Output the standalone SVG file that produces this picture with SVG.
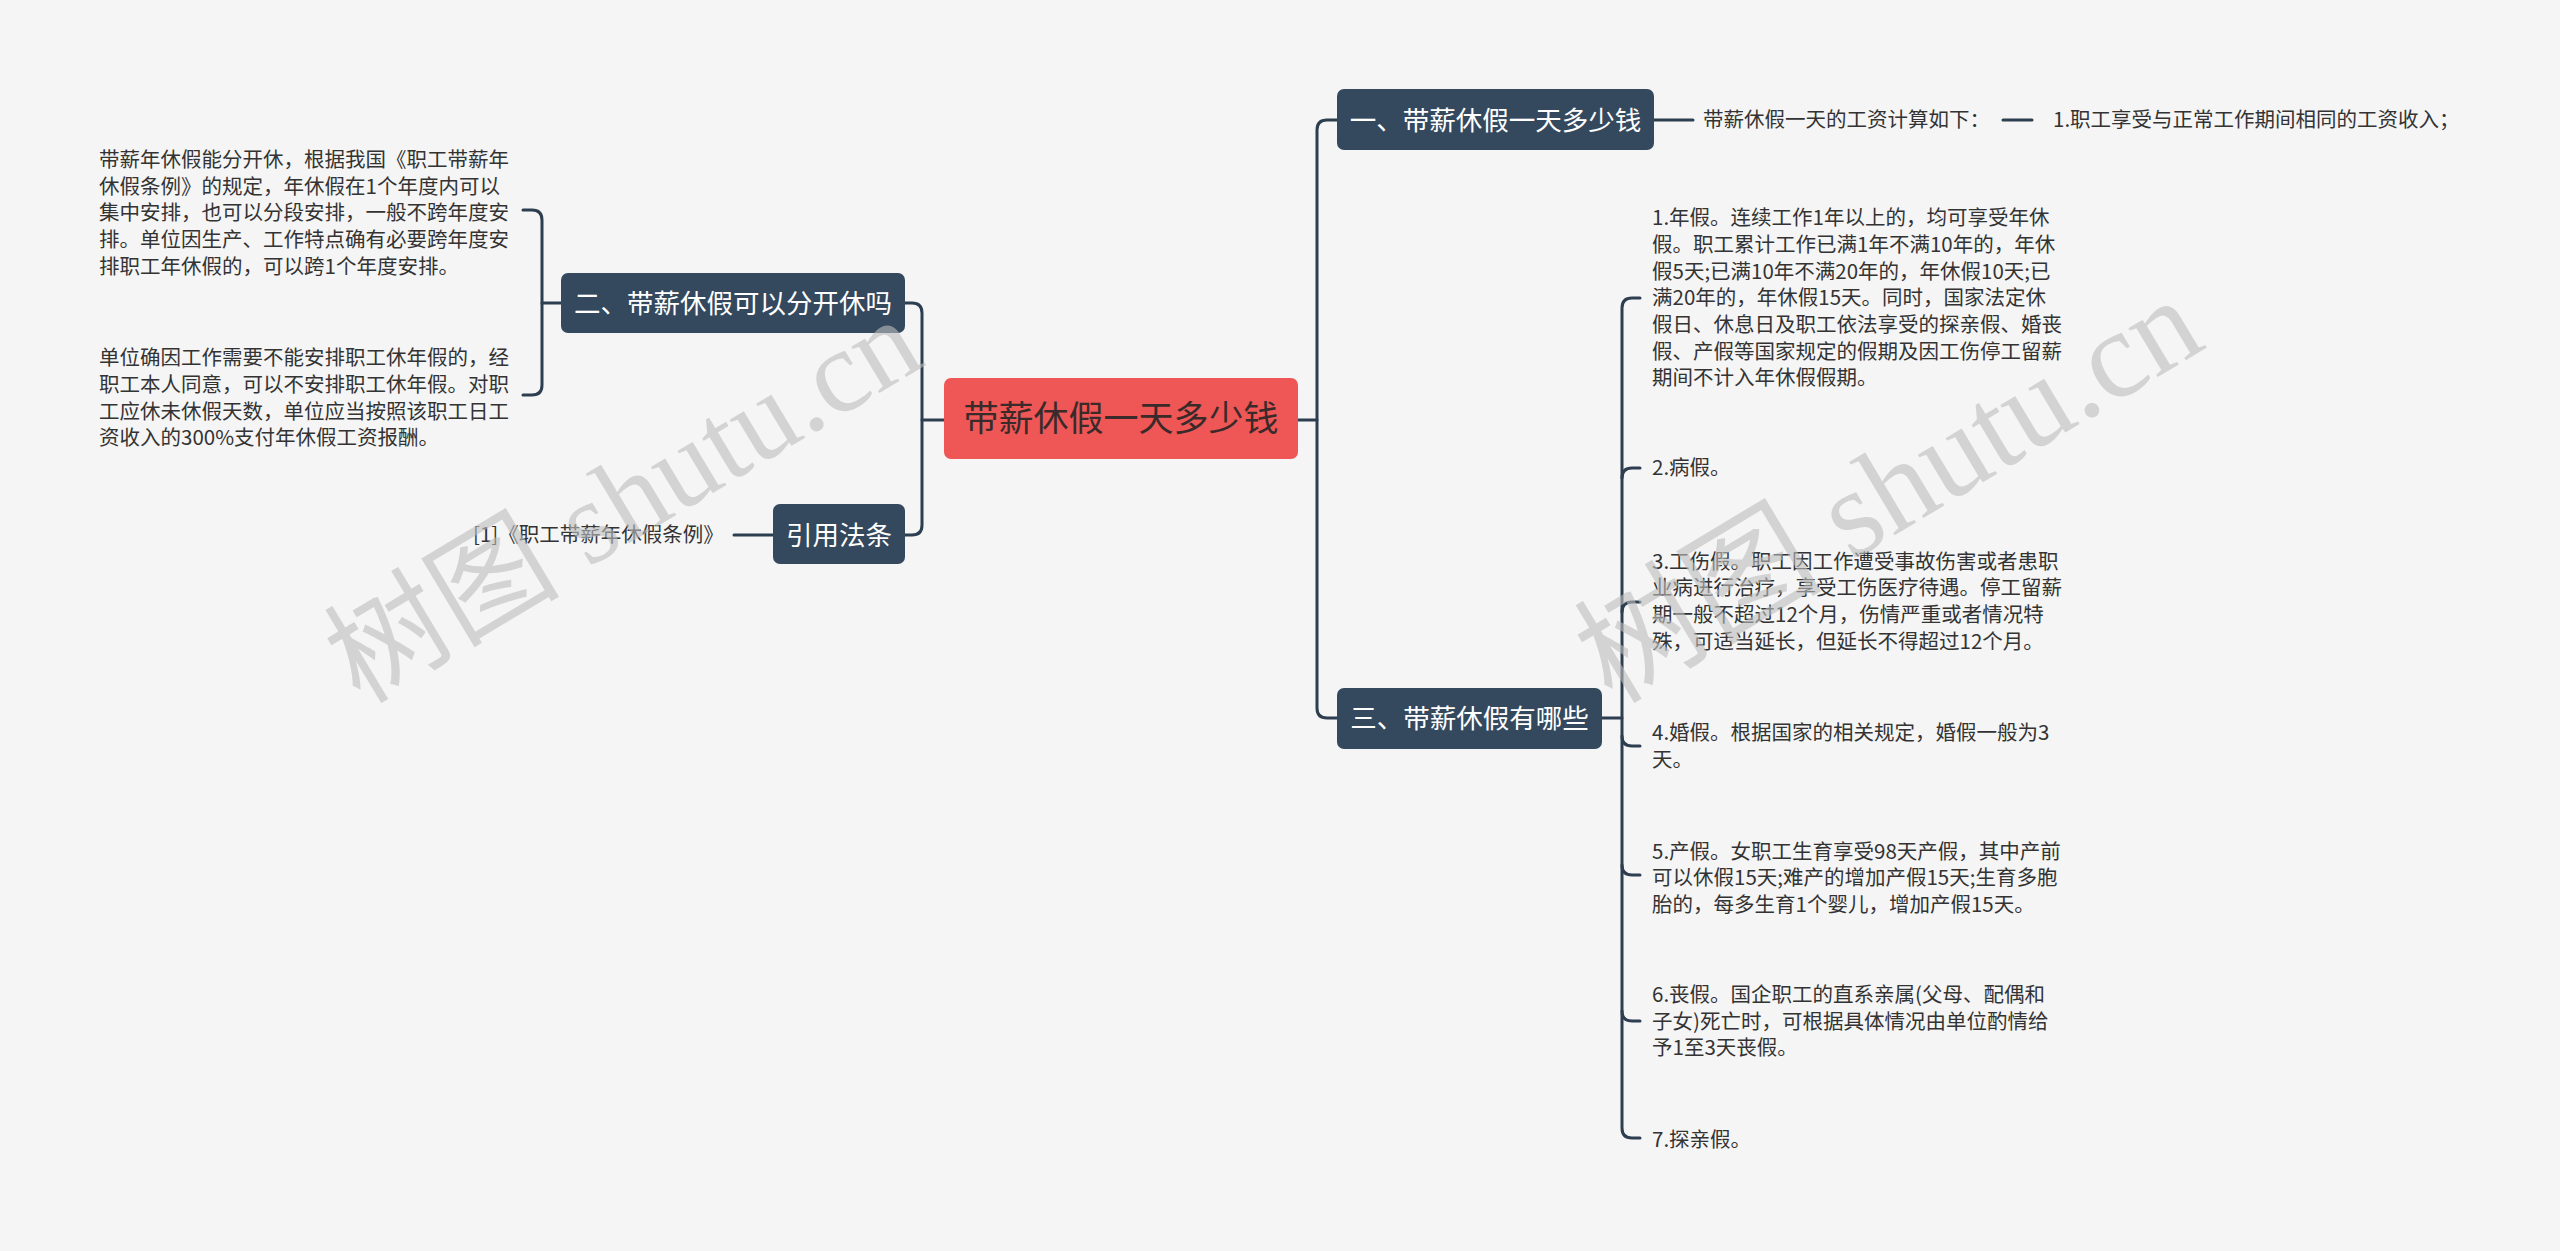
<svg xmlns="http://www.w3.org/2000/svg" width="2560" height="1251" viewBox="0 0 2560 1251">
<style>
.bg{fill:#f5f5f5}
.conn path{fill:none;stroke:#2c3e50;stroke-width:3;stroke-linecap:round}
.topic rect{fill:#34495e}
.topic text{fill:#ffffff;font-family:"Noto Sans CJK SC","Microsoft YaHei",sans-serif;font-size:26.5px}
.root rect{fill:#ef5656}
.root text{fill:#3a2a2a;font-family:"Noto Sans CJK SC",sans-serif;font-size:35px}
.leaf text{fill:#333333;font-family:"Noto Sans CJK SC",sans-serif;font-size:20.5px}
.wm{fill:#bdbdbd;opacity:0.6;font-family:"Liberation Serif","Noto Sans CJK SC",serif;font-size:118px}
</style>
<rect class="bg" x="0" y="0" width="2560" height="1251"/>

<g id="connectors" class="conn">
  <path d="M905 303 H912 Q922 303 922 313 V525 Q922 535 912 535 H905"/>
  <path d="M922 420 H944"/>
  <path d="M523 210 H532 Q542 210 542 220 V385 Q542 395 532 395 H523"/>
  <path d="M542 303 H561"/>
  <path d="M734 535 H773"/>
  <path d="M1337 120 H1327 Q1317 120 1317 130 V708 Q1317 718 1327 718 H1337"/>
  <path d="M1298 420 H1317"/>
  <path d="M1654 120 H1693"/>
  <path d="M2003 120 H2032"/>
  <path d="M1602 718 H1622"/>
  <path d="M1640 298 H1632 Q1622 298 1622 308 V1128 Q1622 1138 1632 1138 H1640"/>
  <path d="M1622 478 Q1622 468 1632 468 H1640"/>
  <path d="M1622 612 Q1622 602 1632 602 H1640"/>
  <path d="M1622 736 Q1622 746 1632 746 H1640"/>
  <path d="M1622 865 Q1622 875 1632 875 H1640"/>
  <path d="M1622 1011 Q1622 1021 1632 1021 H1640"/>
</g>

<g id="root" class="root">
  <rect x="944" y="378" width="354" height="81" rx="7"/>
  <text x="1121" y="431" text-anchor="middle">带薪休假一天多少钱</text>
</g>

<g id="topic-2" class="topic">
  <rect x="561" y="273" width="344" height="60" rx="7"/>
  <text x="733" y="313" text-anchor="middle">二、带薪休假可以分开休吗</text>
</g>
<g id="topic-cite" class="topic">
  <rect x="773" y="504" width="132" height="60" rx="7"/>
  <text x="839" y="545" text-anchor="middle">引用法条</text>
</g>
<g id="topic-1" class="topic">
  <rect x="1337" y="89" width="317" height="61" rx="7"/>
  <text x="1495.5" y="130" text-anchor="middle">一、带薪休假一天多少钱</text>
</g>
<g id="topic-3" class="topic">
  <rect x="1337" y="688" width="265" height="61" rx="7"/>
  <text x="1469.5" y="728" text-anchor="middle">三、带薪休假有哪些</text>
</g>

<g id="leaf-2a" class="leaf">
  <text x="99" y="167">带薪年休假能分开休，根据我国《职工带薪年</text>
  <text x="99" y="194">休假条例》的规定，年休假在1个年度内可以</text>
  <text x="99" y="220">集中安排，也可以分段安排，一般不跨年度安</text>
  <text x="99" y="247">排。单位因生产、工作特点确有必要跨年度安</text>
  <text x="99" y="274">排职工年休假的，可以跨1个年度安排。</text>
</g>
<g id="leaf-2b" class="leaf">
  <text x="99" y="365">单位确因工作需要不能安排职工休年假的，经</text>
  <text x="99" y="392">职工本人同意，可以不安排职工休年假。对职</text>
  <text x="99" y="419">工应休未休假天数，单位应当按照该职工日工</text>
  <text x="99" y="445">资收入的300%支付年休假工资报酬。</text>
</g>
<g id="leaf-cite" class="leaf">
  <text x="473" y="542">[1]《职工带薪年休假条例》</text>
</g>
<g id="leaf-1a" class="leaf">
  <text x="1703" y="127">带薪休假一天的工资计算如下：</text>
</g>
<g id="leaf-1b" class="leaf">
  <text x="2053" y="127">1.职工享受与正常工作期间相同的工资收入；</text>
</g>
<g id="leaf-3-1" class="leaf">
  <text x="1652" y="225">1.年假。连续工作1年以上的，均可享受年休</text>
  <text x="1652" y="252">假。职工累计工作已满1年不满10年的，年休</text>
  <text x="1652" y="279">假5天;已满10年不满20年的，年休假10天;已</text>
  <text x="1652" y="305">满20年的，年休假15天。同时，国家法定休</text>
  <text x="1652" y="332">假日、休息日及职工依法享受的探亲假、婚丧</text>
  <text x="1652" y="359">假、产假等国家规定的假期及因工伤停工留薪</text>
  <text x="1652" y="385">期间不计入年休假假期。</text>
</g>
<g id="leaf-3-2" class="leaf">
  <text x="1652" y="475">2.病假。</text>
</g>
<g id="leaf-3-3" class="leaf">
  <text x="1652" y="569">3.工伤假。职工因工作遭受事故伤害或者患职</text>
  <text x="1652" y="595">业病进行治疗，享受工伤医疗待遇。停工留薪</text>
  <text x="1652" y="622">期一般不超过12个月，伤情严重或者情况特</text>
  <text x="1652" y="649">殊，可适当延长，但延长不得超过12个月。</text>
</g>
<g id="leaf-3-4" class="leaf">
  <text x="1652" y="740">4.婚假。根据国家的相关规定，婚假一般为3</text>
  <text x="1652" y="767">天。</text>
</g>
<g id="leaf-3-5" class="leaf">
  <text x="1652" y="859">5.产假。女职工生育享受98天产假，其中产前</text>
  <text x="1652" y="885">可以休假15天;难产的增加产假15天;生育多胞</text>
  <text x="1652" y="912">胎的，每多生育1个婴儿，增加产假15天。</text>
</g>
<g id="leaf-3-6" class="leaf">
  <text x="1652" y="1002">6.丧假。国企职工的直系亲属(父母、配偶和</text>
  <text x="1652" y="1029">子女)死亡时，可根据具体情况由单位酌情给</text>
  <text x="1652" y="1055">予1至3天丧假。</text>
</g>
<g id="leaf-3-7" class="leaf">
  <text x="1652" y="1147">7.探亲假。</text>
</g>

<g id="watermark">
  <text class="wm" x="0" y="0" transform="translate(360,705) rotate(-31)">树图 shutu.cn</text>
  <text class="wm" x="0" y="0" transform="translate(1612,705) rotate(-31)" style="font-size:124px">树图 shutu.cn</text>
</g>
</svg>
